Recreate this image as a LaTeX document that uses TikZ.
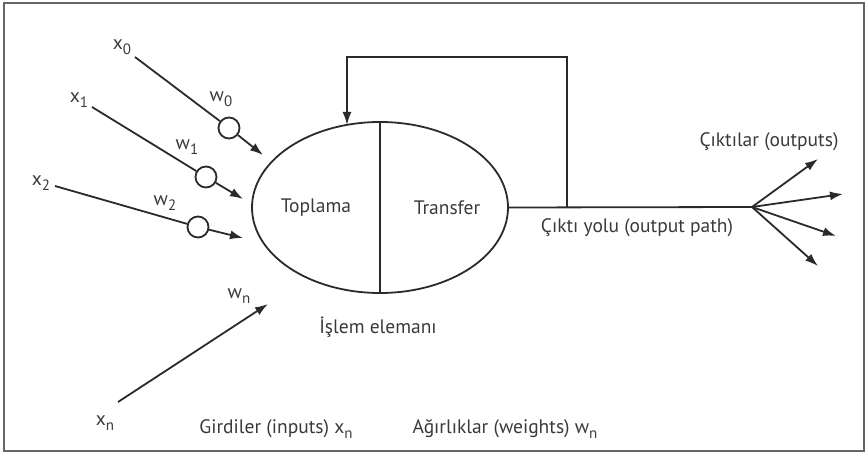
\documentclass[tikz,border=0pt]{standalone}
\usepackage{fontspec}
\setmainfont{PT Sans}
\usetikzlibrary{arrows.meta,shapes.geometric}
\definecolor{ink}{HTML}{2A2A2A}
\definecolor{txt}{HTML}{3A3A3A}
\newcommand\sbx[1]{\raisebox{-5pt}{\fontsize{15}{15}\selectfont #1}}
\tikzset{
  ln/.style={draw=ink,line width=1.8pt},
  arr/.style={ln,-{Latex[length=13pt,width=9pt]}},
  lbl/.style={text=txt,font=\fontsize{19.5}{22}\selectfont,inner sep=0pt},
  wcirc/.style={circle,draw=ink,line width=1.8pt,fill=white,minimum size=21pt,inner sep=0pt},
}
\begin{document}
\begin{tikzpicture}[x=1pt,y=-1pt]
\useasboundingbox (0,0) rectangle (867,454);
\draw[draw=gray!80!black,line width=2.2pt] (4,3) rectangle (864,451);

% processing element
\node[ellipse,draw=ink,line width=1.8pt,minimum width=256pt,minimum height=171pt,inner sep=0pt] (pe) at (380,207.5) {};
\draw[ln] (pe.north) -- (pe.south);
\node[lbl] (top) at (316,208) {Toplama};
\node[lbl] (tra) at (447,208) {Transfer};
\node[lbl] (isl) at (378,327) {İşlem elemanı};

% inputs
\node[lbl] (lx0) at (122,47) {x\sbx{0}};
\node[lbl] (lx1) at (79,100) {x\sbx{1}};
\node[lbl] (lx2) at (41,183) {x\sbx{2}};
\node[lbl] (lw0) at (221,99) {w\sbx{0}};
\node[lbl] (lw1) at (187,147) {w\sbx{1}};
\node[lbl] (lw2) at (165,203) {w\sbx{2}};
\node[lbl] (lwn) at (239,296) {w\sbx{n}};
\node[lbl] (lxn) at (105,423) {x\sbx{n}};

\coordinate (s0) at (135,57);
\coordinate (s1) at (92,107);
\coordinate (s2) at (55,186);
\coordinate (sn) at (118,402);
\node[wcirc] (c0) at (229,128) {};
\node[wcirc] (c1) at (206,177) {};
\node[wcirc] (c2) at (198,227) {};
\coordinate (t0) at (263,155);
\coordinate (t1) at (243,199);
\coordinate (t2) at (243,238);
\coordinate (tn) at (268,304);

\draw[ln] (s0) -- (c0);
\draw[ln] (s1) -- (c1);
\draw[ln] (s2) -- (c2);
\draw[arr] (c0) -- (t0);
\draw[arr] (c1) -- (t1);
\draw[arr] (c2) -- (t2);
\draw[arr] (sn) -- (tn);

% output path and feedback
\coordinate (fan) at (752,207);
\coordinate (fbj) at (567,207);
\coordinate (fbt) at (347,125);
\draw[ln] (pe.east) -- (fan);
\draw[arr] (fbj) -- (567,57) -- (347,57) -- (fbt);
\coordinate (o1) at (818,159);
\coordinate (o2) at (843,194);
\coordinate (o3) at (836,236);
\coordinate (o4) at (818,266);
\draw[arr] (fan) -- (o1);
\draw[arr] (fan) -- (o2);
\draw[arr] (fan) -- (o3);
\draw[arr] (fan) -- (o4);

\node[lbl] (outs) at (769,142) {Çıktılar (outputs)};
\node[lbl] (opath) at (637,228) {Çıktı yolu (output path)};
\node[lbl] (inp) at (276,429) {Girdiler (inputs) x\sbx{n}};
\node[lbl] (wts) at (505,429) {Ağırlıklar (weights) w\sbx{n}};
\end{tikzpicture}
\end{document}
